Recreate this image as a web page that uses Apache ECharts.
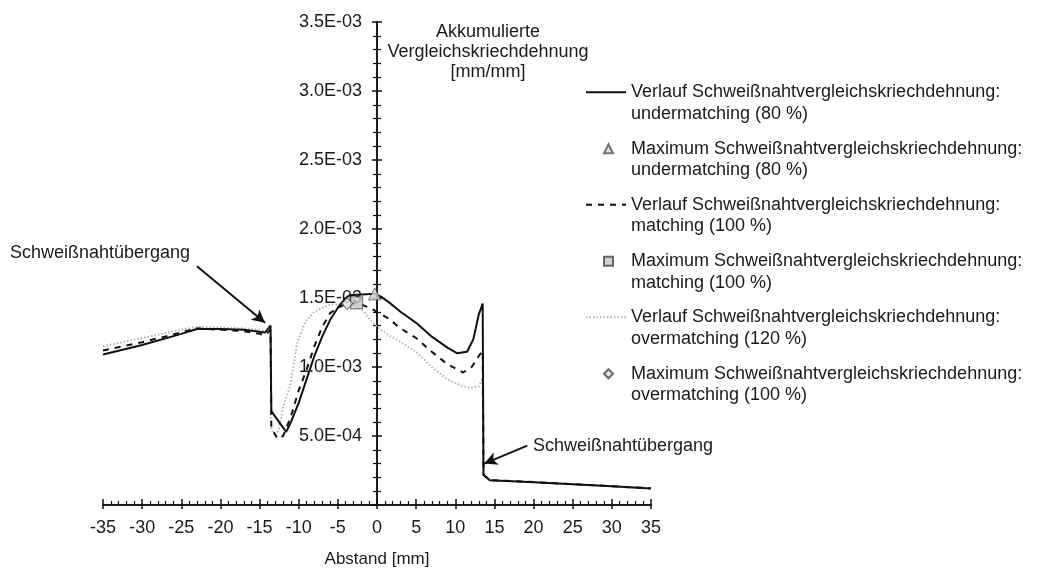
<!DOCTYPE html>
<html>
<head>
<meta charset="utf-8">
<script src="https://cdn.jsdelivr.net/npm/echarts@6/dist/echarts.min.js"></script>
<style>
  html, body { margin: 0; padding: 0; background: #fff; }
  #chart { width: 1042px; height: 568px; }
</style>
</head>
<body>
<div id="chart"></div>
<script>
// Distance from the weld centre [mm] and accumulated equivalent creep strain [mm/mm]
const underX = [-35, -30, -25, -23, -20, -17, -15, -14.3, -13.6, -13.5, -12.5, -11.6, -11, -10, -9, -8, -7, -6, -5, -4, -3.5, -0.3, 0.5, 1.5, 3, 5, 7, 9, 10.2, 11.5, 12.3, 13, 13.5, 13.6, 14.4, 20, 25, 30, 35];
const underY = [1.09e-3, 1.16e-3, 1.24e-3, 1.275e-3, 1.275e-3, 1.27e-3, 1.255e-3, 1.25e-3, 1.30e-3, 0.68e-3, 0.60e-3, 0.53e-3, 0.60e-3, 0.74e-3, 0.91e-3, 1.08e-3, 1.22e-3, 1.34e-3, 1.43e-3, 1.50e-3, 1.52e-3, 1.53e-3, 1.51e-3, 1.47e-3, 1.40e-3, 1.32e-3, 1.22e-3, 1.14e-3, 1.10e-3, 1.11e-3, 1.20e-3, 1.38e-3, 1.46e-3, 0.22e-3, 0.18e-3, 0.165e-3, 0.15e-3, 0.135e-3, 0.12e-3];

const matchX = [-35, -30, -25, -23, -20, -17, -15, -14.3, -13.6, -13.5, -12.7, -12, -11, -10, -9, -8, -7, -6, -5, -4, -2.6, -1, 0, 1.5, 3, 5, 7, 9, 11, 12.1, 13, 13.5, 13.6, 14.4, 20, 25, 30, 35];
const matchY = [1.12e-3, 1.18e-3, 1.25e-3, 1.28e-3, 1.27e-3, 1.26e-3, 1.24e-3, 1.23e-3, 1.27e-3, 0.56e-3, 0.48e-3, 0.50e-3, 0.64e-3, 0.83e-3, 0.98e-3, 1.15e-3, 1.29e-3, 1.39e-3, 1.43e-3, 1.455e-3, 1.465e-3, 1.43e-3, 1.40e-3, 1.35e-3, 1.28e-3, 1.21e-3, 1.11e-3, 1.02e-3, 0.96e-3, 1.00e-3, 1.08e-3, 1.12e-3, 0.22e-3, 0.18e-3, 0.166e-3, 0.151e-3, 0.136e-3, 0.121e-3];

const overX = [-35, -30, -25, -23, -20, -17, -15, -14.3, -13.6, -13.5, -13, -12.5, -12, -11.1, -10.7, -10.2, -9.5, -9, -8, -7, -6, -3.8, -2.5, -1.8, -1, 0, 1.5, 2.5, 5, 7, 9, 11, 12, 13, 13.5, 13.6, 14.4, 20, 25, 30, 35];
const overY = [1.15e-3, 1.21e-3, 1.27e-3, 1.29e-3, 1.285e-3, 1.28e-3, 1.27e-3, 1.26e-3, 1.28e-3, 0.55e-3, 0.50e-3, 0.55e-3, 0.71e-3, 0.86e-3, 1.00e-3, 1.17e-3, 1.28e-3, 1.34e-3, 1.40e-3, 1.43e-3, 1.45e-3, 1.46e-3, 1.44e-3, 1.41e-3, 1.35e-3, 1.29e-3, 1.23e-3, 1.20e-3, 1.11e-3, 1.00e-3, 0.91e-3, 0.86e-3, 0.85e-3, 0.86e-3, 0.92e-3, 0.22e-3, 0.18e-3, 0.166e-3, 0.151e-3, 0.136e-3, 0.121e-3];

// Maxima of the three curves: [undermatching, matching, overmatching]
const peakX = [-0.3, -2.6, -3.8];
const peakY = [1.53e-3, 1.465e-3, 1.46e-3];

// Weld transition callouts: arrow start and arrow tip in axis units
const calloutFrom = [[-23.0, 1.73e-3], [19.2, 0.43e-3]];
const calloutTo = [[-14.3, 1.32e-3], [13.7, 0.30e-3]];
const calloutText = 'Schweißnahtübergang';

const curveNames = [
  'Verlauf Schweißnahtvergleichskriechdehnung:\nundermatching (80 %)',
  'Verlauf Schweißnahtvergleichskriechdehnung:\nmatching (100 %)',
  'Verlauf Schweißnahtvergleichskriechdehnung:\novermatching (120 %)'
];
const peakNames = [
  'Maximum Schweißnahtvergleichskriechdehnung:\nundermatching (80 %)',
  'Maximum Schweißnahtvergleichskriechdehnung:\nmatching (100 %)',
  'Maximum Schweißnahtvergleichskriechdehnung:\novermatching (100 %)'
];

const FONT = "'Liberation Sans', Arial, sans-serif";
const TEXT = '#1a1a1a';
const AXIS = '#111';

// plot area and axis ranges
const GRID = { left: 103, right: 391, top: 22, bottom: 63 };
const X_MIN = -35, X_MAX = 35;
const plotWidth = 1042 - GRID.left - GRID.right;
// the value axis crosses the distance axis at 0 mm
const yAxisShift = -(0 - X_MIN) / (X_MAX - X_MIN) * plotWidth;

const pairs = (xs, ys) => xs.map((x, i) => [x, ys[i]]);
const expLabel = v => {
  if (Math.abs(v) < 1e-12) return '';
  return v.toExponential(1).replace(/e([+-])(\d)$/, 'E$10$2').replace(/e([+-])(\d\d)$/, 'E$1$2');
};
// a blank leading line keeps the legend symbol level with the first text line
const legendLabel = name => ' \n' + name;

const chart = echarts.init(document.getElementById('chart'), null, { renderer: 'canvas' });

const xBase = {
  type: 'value', min: X_MIN, max: X_MAX, interval: 5,
  splitLine: { show: false },
  axisLine: { onZero: false, lineStyle: { color: AXIS, width: 1.5 } }
};
const yBase = {
  type: 'value', min: 0, max: 3.5e-3, interval: 5e-4,
  position: 'left', offset: yAxisShift,
  splitLine: { show: false },
  axisLine: { onZero: false, lineStyle: { color: AXIS, width: 1.5 } }
};

const legendText = {
  fontFamily: FONT, fontSize: 18, color: TEXT, lineHeight: 21.5
};

const option = {
  animation: false,
  backgroundColor: '#fff',
  textStyle: { fontFamily: FONT },
  grid: Object.assign({ containLabel: false, outerBoundsMode: 'none' }, GRID),
  xAxis: [
    Object.assign({}, xBase, {
      position: 'bottom',
      name: 'Abstand [mm]', nameLocation: 'middle', nameGap: 46,
      nameTextStyle: { fontFamily: FONT, fontSize: 17, color: TEXT },
      axisTick: { show: true, inside: false, length: 4, lineStyle: { color: AXIS, width: 1.5 } },
      minorTick: { show: false },
      axisLabel: { fontFamily: FONT, fontSize: 18, color: TEXT, margin: 14 }
    }),
    Object.assign({}, xBase, {
      position: 'bottom',
      axisTick: { show: true, inside: true, length: 6, lineStyle: { color: AXIS, width: 1.5 } },
      minorTick: { show: true, splitNumber: 5, length: 4, lineStyle: { color: AXIS, width: 1.2 } },
      axisLabel: { show: false }
    })
  ],
  yAxis: [
    Object.assign({}, yBase, {
      axisTick: { show: true, inside: false, length: 5, lineStyle: { color: AXIS, width: 1.5 } },
      minorTick: { show: true, splitNumber: 5, length: 4, lineStyle: { color: AXIS, width: 1.2 } },
      axisLabel: { fontFamily: FONT, fontSize: 18, color: TEXT, margin: 15, formatter: expLabel }
    }),
    Object.assign({}, yBase, {
      axisTick: { show: true, inside: true, length: 5, lineStyle: { color: AXIS, width: 1.5 } },
      minorTick: { show: true, splitNumber: 5, length: 4, lineStyle: { color: AXIS, width: 1.2 } },
      axisLabel: { show: false }
    })
  ],
  legend: [
    {
      // curve entries
      orient: 'vertical', left: 585, top: 60, padding: 0,
      itemWidth: 40, itemHeight: 10, itemGap: 48,
      selectedMode: false,
      formatter: legendLabel,
      textStyle: legendText,
      data: curveNames.map(n => ({ name: n, itemStyle: { color: 'rgba(0,0,0,0)', borderWidth: 0 } }))
    },
    {
      // maximum markers
      orient: 'vertical', left: 603, top: 116.5, padding: 0,
      itemWidth: 9, itemHeight: 9, itemGap: 48,
      selectedMode: false,
      formatter: legendLabel,
      textStyle: Object.assign({ padding: [0, 0, 0, 13] }, legendText),
      data: peakNames.slice()
    }
  ],
  graphic: [
    {
      type: 'text',
      style: {
        text: 'Akkumulierte\nVergleichskriechdehnung\n[mm/mm]',
        x: 488, y: 22, align: 'center', verticalAlign: 'top',
        font: '18px ' + FONT, lineHeight: 20, fill: TEXT
      }
    },
    {
      type: 'text',
      style: { text: calloutText, x: 10, y: 253, verticalAlign: 'middle', font: '18px ' + FONT, fill: TEXT }
    },
    {
      type: 'text',
      style: { text: calloutText, x: 533, y: 446, verticalAlign: 'middle', font: '18px ' + FONT, fill: TEXT }
    }
  ],
  series: [
    {
      name: curveNames[2], type: 'line', data: pairs(overX, overY),
      symbol: 'none', z: 2,
      lineStyle: { color: '#b4b4b4', width: 2, type: [1.5, 2] }
    },
    {
      name: curveNames[1], type: 'line', data: pairs(matchX, matchY),
      symbol: 'none', z: 3,
      lineStyle: { color: '#111', width: 2, type: [6, 6] }
    },
    {
      name: curveNames[0], type: 'line', data: pairs(underX, underY),
      symbol: 'none', z: 4,
      lineStyle: { color: '#111', width: 2, type: 'solid' },
      markLine: {
        silent: true, animation: false,
        symbol: ['none', 'arrow'], symbolSize: [10, 13],
        label: { show: false },
        lineStyle: { color: '#111', width: 2, type: 'solid' },
        data: calloutFrom.map((p, i) => [{ coord: p }, { coord: calloutTo[i] }])
      }
    },
    {
      name: peakNames[0], type: 'scatter', z: 6,
      data: [[peakX[0], peakY[0]]],
      symbol: 'triangle', symbolSize: 12,
      itemStyle: { color: '#d9d9d9', borderColor: '#555', borderWidth: 1 }
    },
    {
      name: peakNames[1], type: 'scatter', z: 5,
      data: [[peakX[1], peakY[1]]],
      symbol: 'rect', symbolSize: 12,
      itemStyle: { color: '#c8c8c8', borderColor: '#444', borderWidth: 1 }
    },
    {
      name: peakNames[2], type: 'scatter', z: 5,
      data: [[peakX[2], peakY[2]]],
      symbol: 'diamond', symbolSize: [11, 12],
      itemStyle: { color: '#e6e6e6', borderColor: '#444', borderWidth: 1 }
    }
  ]
};

chart.setOption(option);
</script>
</body>
</html>
